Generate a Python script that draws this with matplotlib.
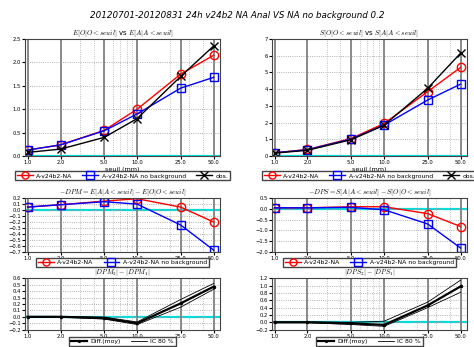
import numpy as np
import matplotlib
matplotlib.use("Agg")
import matplotlib.pyplot as plt
from matplotlib.ticker import FixedLocator, NullFormatter

plt.rcParams['mathtext.fontset'] = 'cm'

seuils = [1.0, 2.0, 5.0, 10.0, 25.0, 50.0]
seuil_labels = ["1.0", "2.0", "5.0", "10.0", "25.0", "50.0"]

# mean of precip above threshold
e_na = [0.13, 0.24, 0.55, 1.00, 1.75, 2.15]
e_nobg = [0.13, 0.24, 0.54, 0.90, 1.45, 1.68]
e_obs = [0.08, 0.15, 0.40, 0.80, 1.70, 2.35]

# std
s_na = [0.20, 0.40, 1.05, 1.95, 3.85, 5.30]
s_nobg = [0.20, 0.38, 1.02, 1.85, 3.35, 4.30]
s_obs = [0.18, 0.35, 0.98, 1.85, 4.05, 6.15]

# -DPM, -DPS
dpm_na = [0.05, 0.09, 0.15, 0.19, 0.05, -0.20]
dpm_nobg = [0.05, 0.09, 0.14, 0.10, -0.25, -0.67]
dps_na = [0.05, 0.05, 0.10, 0.10, -0.22, -0.82]
dps_nobg = [0.05, 0.05, 0.07, -0.04, -0.70, -1.82]

# differences + 80% confidence interval
ddpm = [0.0, 0.0, -0.02, -0.10, 0.21, 0.47]
ddpm_lo = [-0.005, -0.005, -0.035, -0.12, 0.15, 0.43]
ddpm_hi = [0.005, 0.005, -0.005, -0.08, 0.27, 0.52]
ddps = [0.0, 0.0, -0.03, -0.07, 0.46, 0.98]
ddps_lo = [-0.01, -0.01, -0.06, -0.11, 0.40, 0.82]
ddps_hi = [0.01, 0.01, 0.0, 0.03, 0.55, 1.15]

fig = plt.figure(figsize=(4.74, 3.47), dpi=100)
fig.text(0.5, 0.955, "20120701-20120831 24h v24b2 NA Anal VS NA no background 0.2",
         ha='center', va='center', fontsize=6.3, style='italic')

def setup(ax, yticks, ylim, title, xlabel=False):
    ax.set_xscale('log')
    ax.set_xlim(0.95, 57)
    ax.xaxis.set_major_locator(FixedLocator(seuils))
    ax.set_xticklabels(seuil_labels)
    ax.xaxis.set_minor_locator(FixedLocator([3, 4, 6, 7, 8, 9, 20, 30, 40]))
    ax.xaxis.set_minor_formatter(NullFormatter())
    ax.set_yticks(yticks)
    ax.set_ylim(ylim)
    ax.tick_params(labelsize=3.8, length=2, pad=1)
    ax.tick_params(which='minor', length=0)
    ax.grid(True, which='major', axis='x', color='#808080', lw=1.3, ls='-')
    ax.grid(True, which='minor', axis='x', color='#aaaaaa', lw=0.6, ls=':')
    ax.grid(True, which='major', axis='y', color='#999999', lw=0.6, ls=':')
    ax.axhline(0, color='#00dddd', lw=1.6, zorder=1)
    ax.set_title(title, fontsize=5, pad=3)
    if xlabel:
        ax.set_xlabel("seuil (mm)", fontsize=4.6, labelpad=1)
    for s in ax.spines.values():
        s.set_color('#444444')
        s.set_linewidth(0.8)

mk = dict(ms=6, mfc='none', mew=1.0, lw=1.0)
leg = dict(fontsize=4.4, fancybox=False, edgecolor='#444444', borderpad=0.3,
           handlelength=2.6, columnspacing=1.6, handletextpad=0.6, borderaxespad=0,
           markerscale=0.85, framealpha=1)

# top row
ax1 = fig.add_axes([0.053, 0.550, 0.411, 0.338])
ax1.plot(seuils, e_na, 'o-', color='red', label='A-v24b2-NA', **mk)
ax1.plot(seuils, e_nobg, 's-', color='blue', label='A-v24b2-NA no background', **mk)
ax1.plot(seuils, e_obs, 'x-', color='black', label='obs.', **mk)
setup(ax1, np.arange(0, 2.51, 0.5), (0, 2.5), r"$E[O|O<seuil]$ vs $E[A|A<seuil]$", True)
ax1.legend(loc='upper center', bbox_to_anchor=(0.5, -0.13), ncol=3, **leg)

ax2 = fig.add_axes([0.574, 0.550, 0.411, 0.338])
ax2.plot(seuils, s_na, 'o-', color='red', label='A-v24b2-NA', **mk)
ax2.plot(seuils, s_nobg, 's-', color='blue', label='A-v24b2-NA no background', **mk)
ax2.plot(seuils, s_obs, 'x-', color='black', label='obs.', **mk)
setup(ax2, np.arange(0, 7.1, 1), (0, 7), r"$S[O|O<seuil]$ vs $S[A|A<seuil]$", True)
ax2.legend(loc='upper center', bbox_to_anchor=(0.5, -0.13), ncol=3, **leg)

# middle row
ax3 = fig.add_axes([0.053, 0.274, 0.411, 0.155])
ax3.plot(seuils, dpm_na, 'o-', color='red', label='A-v24b2-NA', **mk)
ax3.plot(seuils, dpm_nobg, 's-', color='blue', label='A-v24b2-NA no background', **mk)
setup(ax3, np.round(np.arange(-0.7, 0.21, 0.1), 1), (-0.7, 0.2),
      r"$-DPM=E[A|A<seuil]-E[O|O<seuil]$")
ax3.legend(loc='upper center', bbox_to_anchor=(0.5, -0.12), ncol=2, **leg)

ax4 = fig.add_axes([0.574, 0.274, 0.411, 0.155])
ax4.plot(seuils, dps_na, 'o-', color='red', label='A-v24b2-NA', **mk)
ax4.plot(seuils, dps_nobg, 's-', color='blue', label='A-v24b2-NA no background', **mk)
setup(ax4, np.arange(-2.0, 0.51, 0.5), (-2.0, 0.5),
      r"$-DPS=S[A|A<seuil]-S[O|O<seuil]$")
ax4.legend(loc='upper center', bbox_to_anchor=(0.5, -0.12), ncol=2, **leg)

# bottom row
ax5 = fig.add_axes([0.053, 0.050, 0.411, 0.148])
ax5.plot(seuils, ddpm, '.-', color='black', lw=1.6, ms=3, label='Diff.(moy)')
ax5.plot(seuils, ddpm_lo, '-', color='black', lw=0.6, label='IC 80 %')
ax5.plot(seuils, ddpm_hi, '-', color='black', lw=0.6)
setup(ax5, np.round(np.arange(-0.2, 0.61, 0.1), 1), (-0.2, 0.6), r"$|DPM_2|-|DPM_1|$")
ax5.legend(loc='upper center', bbox_to_anchor=(0.5, -0.14), ncol=2, **leg)

ax6 = fig.add_axes([0.574, 0.050, 0.411, 0.148])
ax6.plot(seuils, ddps, '.-', color='black', lw=1.6, ms=3, label='Diff.(moy)')
ax6.plot(seuils, ddps_lo, '-', color='black', lw=0.6, label='IC 80 %')
ax6.plot(seuils, ddps_hi, '-', color='black', lw=0.6)
setup(ax6, np.round(np.arange(-0.2, 1.21, 0.2), 1), (-0.2, 1.2), r"$|DPS_2|-|DPS_1|$")
ax6.legend(loc='upper center', bbox_to_anchor=(0.5, -0.14), ncol=2, **leg)

fig.savefig("out.png", dpi=100)
